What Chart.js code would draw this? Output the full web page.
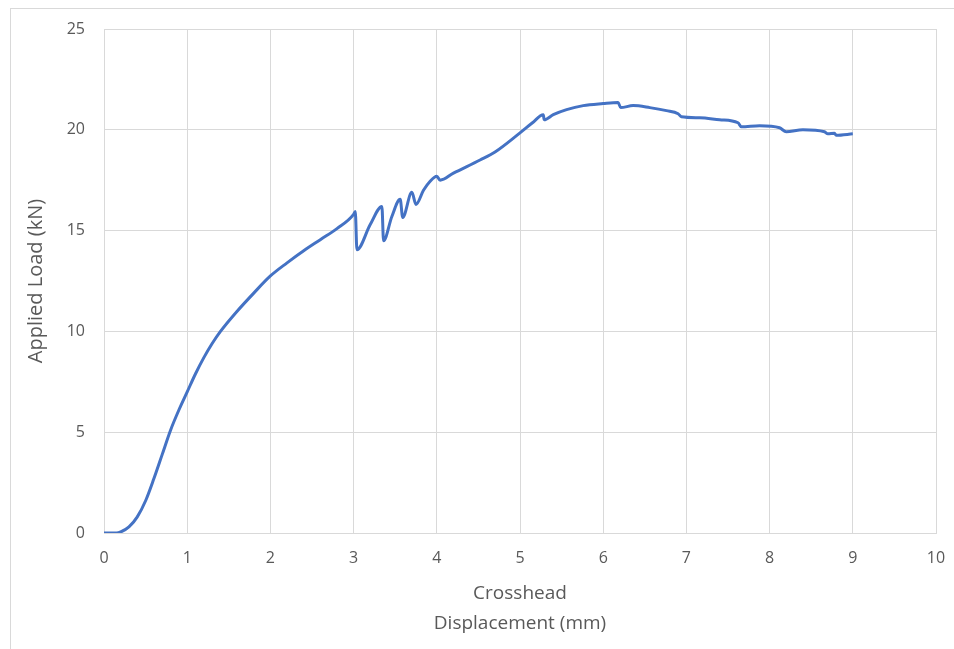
<!DOCTYPE html>
<html>
<head>
<meta charset="utf-8">
<script src="https://cdn.jsdelivr.net/npm/chart.js@4/dist/chart.umd.min.js"></script>
<style>
  html, body { margin: 0; padding: 0; background: #fff; }
  #wrap { position: relative; width: 954px; height: 649px; overflow: hidden; }
  #frame {
    position: absolute; left: 10px; top: 8px; width: 2000px; height: 2000px;
    border-left: 1px solid #d9d9d9; border-top: 1px solid #d9d9d9;
  }
  #chart { position: absolute; left: 0; top: 0; }
</style>
</head>
<body>
<div id="wrap">
  <div id="frame"></div>
  <canvas id="chart" width="954" height="649"></canvas>
</div>
<script>
const dispMm = [
  0, 0.15, 0.2, 0.3, 0.4, 0.5, 0.6, 0.7, 0.8, 0.9, 1.0, 1.1, 1.2, 1.3, 1.4, 1.6, 1.8,
  2.0, 2.2, 2.4, 2.6, 2.8, 3.0, 3.02, 3.04, 3.2, 3.34, 3.36, 3.46, 3.56, 3.59,
  3.70, 3.75, 3.84, 3.92, 4.0, 4.04, 4.2, 4.52, 4.7, 5.0, 5.15, 5.28, 5.29,
  5.4, 5.56, 5.76, 6.0, 6.18, 6.21, 6.36, 6.56, 6.76, 6.9, 6.94, 7.16, 7.4,
  7.62, 7.66, 7.88, 8.12, 8.2, 8.4, 8.66, 8.7, 8.78, 8.8, 9.0
];
const loadKn = [
  0, 0, 0.05, 0.3, 0.8, 1.6, 2.7, 3.9, 5.1, 6.1, 7.0, 7.9, 8.7, 9.4, 10.0, 11.0, 11.9,
  12.75, 13.4, 14.0, 14.55, 15.1, 15.8, 15.95, 14.05, 15.3, 16.2, 14.5, 15.7, 16.55, 15.65,
  16.9, 16.3, 17.0, 17.45, 17.7, 17.5, 17.85, 18.5, 18.9, 19.85, 20.35, 20.75, 20.5,
  20.75, 21.0, 21.2, 21.3, 21.35, 21.1, 21.2, 21.1, 20.95, 20.8, 20.65, 20.6, 20.5,
  20.35, 20.15, 20.2, 20.1, 19.9, 20.0, 19.9, 19.8, 19.83, 19.73, 19.8
];
const xTicks = [0, 1, 2, 3, 4, 5, 6, 7, 8, 9, 10];
const yTicks = [0, 5, 10, 15, 20, 25];

const points = dispMm.map((x, i) => ({ x: x, y: loadKn[i] }));
const tickFont = { family: "Open Sans", size: 16 };
const titleFont = { family: "Open Sans", size: 19, lineHeight: 1.55 };

new Chart(document.getElementById("chart").getContext("2d"), {
  type: "line",
  data: {
    datasets: [
      {
        data: points,
        borderColor: "#4472c4",
        borderWidth: 3,
        pointRadius: 0,
        cubicInterpolationMode: "monotone",
        fill: false,
      },
    ],
  },
  options: {
    responsive: false,
    animation: false,
    layout: { padding: { left: 24, right: 18, top: 29, bottom: 11 } },
    plugins: { legend: { display: false }, tooltip: { enabled: false } },
    scales: {
      x: {
        type: "linear",
        min: 0,
        max: 10,
        afterBuildTicks: (s) => { s.ticks = xTicks.map((v) => ({ value: v })); },
        afterFit: (s) => {
          s.height = 105;
          s.paddingRight = 0;
        },
        grid: { color: "#d9d9d9", drawTicks: false },
        border: { color: "#d9d9d9" },
        ticks: { font: tickFont, color: "#595959", padding: 16 },
        title: {
          display: true,
          text: ["Crosshead", "Displacement (mm)"],
          font: titleFont,
          color: "#595959",
          padding: 0,
        },
      },
      y: {
        type: "linear",
        min: 0,
        max: 25,
        afterBuildTicks: (s) => { s.ticks = yTicks.map((v) => ({ value: v })); },
        afterFit: (s) => { s.width = 80; },
        grid: { color: "#d9d9d9", drawTicks: false },
        border: { color: "#d9d9d9" },
        ticks: { font: tickFont, color: "#595959", padding: 19 },
        title: {
          display: true,
          text: "Applied Load (kN)",
          font: { family: "Open Sans", size: 20 },
          color: "#595959",
          padding: 0,
        },
      },
    },
  },
});
</script>
</body>
</html>
